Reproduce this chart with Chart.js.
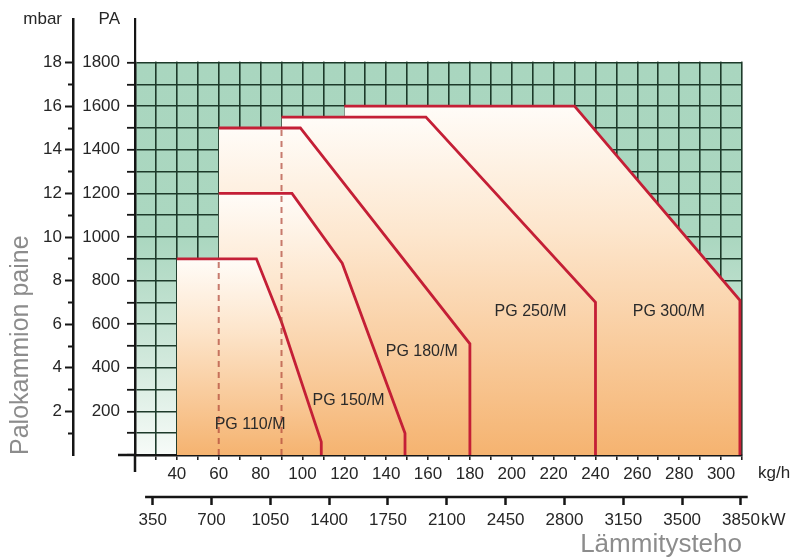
<!DOCTYPE html>
<html>
<head>
<meta charset="utf-8">
<script src="https://cdn.jsdelivr.net/npm/chart.js@4.4.1/dist/chart.umd.min.js"></script>
<style>
  html, body { margin: 0; padding: 0; background: #fff; }
  #wrap { width: 792px; height: 558px; position: relative; }
</style>
</head>
<body>
<div id="wrap"><canvas id="burner-chart"></canvas></div>
<script>
// working ranges of the burners: fuel flow (kg/h) vs chamber pressure (Pa)
const series_names = ["PG 110/M", "PG 150/M", "PG 180/M", "PG 250/M", "PG 300/M"];

const pg110_kgh = [40, 78, 90, 109, 109];
const pg110_pa = [900, 900, 610, 60, 0];
const pg150_kgh = [60, 95, 119, 149, 149];
const pg150_pa = [1200, 1200, 880, 100, 0];
const pg180_kgh = [60, 99, 180, 180];
const pg180_pa = [1500, 1500, 510, 0];
const pg250_kgh = [90, 159, 240, 240];
const pg250_pa = [1550, 1550, 700, 0];
const pg300_kgh = [120, 230, 309, 309];
const pg300_pa = [1600, 1600, 710, 0];

// dashed start lines
const dash_kgh = [60, 90];
const dash_top_pa = [900, 1500];

// model name anchors (kg/h, Pa)
const label_kgh = [75, 122, 157, 209, 275];
const label_pa = [140, 250, 474, 657, 657];

const kgh_labels = [40, 60, 80, 100, 120, 140, 160, 180, 200, 220, 240, 260, 280, 300];
const kw_labels = [350, 700, 1050, 1400, 1750, 2100, 2450, 2800, 3150, 3500, 3850];
const pa_labels = [200, 400, 600, 800, 1000, 1200, 1400, 1600, 1800];
const mbar_labels = [2, 4, 6, 8, 10, 12, 14, 16, 18];

const grid_color = "#1d3a2a";
const axis_color = "#151515";
const line_red = "#c41f36";
const font_family = '"Liberation Sans", Arial, Helvetica, sans-serif';

Chart.defaults.font.family = font_family;
Chart.defaults.color = "#262626";

function points(xs, ys) {
    return xs.map((x, i) => ({ x: x, y: ys[i] }));
}

function region_fill(context) {
    let chart = context.chart;
    if (!chart.chartArea) {
        return "rgba(245,180,110,0.8)";
    }
    let ys = context.dataset.data.map(p => p.y);
    let top = chart.scales.y.getPixelForValue(Math.max(...ys));
    let bottom = chart.scales.y.getPixelForValue(0);
    let g = chart.ctx.createLinearGradient(0, top, 0, bottom);
    g.addColorStop(0, "#fffcf8");
    g.addColorStop(0.35, "#fde6cd");
    g.addColorStop(1, "#f5b370");
    return g;
}

function model(i, xs, ys) {
    return {
        label: series_names[i],
        data: points(xs, ys),
        borderColor: line_red,
        borderWidth: 2.8,
        borderJoinStyle: "miter",
        backgroundColor: region_fill,
        fill: "origin",
        pointRadius: 0,
        tension: 0
    };
}

function dashed(i) {
    return {
        label: "dash" + i,
        data: points([dash_kgh[i], dash_kgh[i]], [0, dash_top_pa[i]]),
        borderColor: "rgba(175,70,55,0.7)",
        borderWidth: 2,
        borderDash: [6, 5],
        fill: false,
        pointRadius: 0
    };
}

const decor = {
    id: "decor",
    beforeDraw(chart) {
        let ctx = chart.ctx;
        let x = chart.scales.x, y = chart.scales.y;
        let l = x.getPixelForValue(20), r = x.getPixelForValue(310);
        let t = y.getPixelForValue(1800), b = y.getPixelForValue(0);
        let g = ctx.createLinearGradient(0, t, 0, b);
        g.addColorStop(0, "#a9d6bf");
        g.addColorStop(0.45, "#abd7c0");
        g.addColorStop(0.75, "#d0e8db");
        g.addColorStop(1, "#f7fbf8");
        ctx.save();
        ctx.fillStyle = g;
        ctx.fillRect(l, t, r - l, b - t);
        ctx.restore();
    },
    beforeDatasetsDraw(chart) {
        // grid stops at 1800 Pa
        let ctx = chart.ctx;
        let a = chart.chartArea;
        let t = chart.scales.y.getPixelForValue(1800);
        ctx.save();
        ctx.fillStyle = "#fff";
        ctx.fillRect(a.left + 1.4, a.top - 2, a.right - a.left + 2, t - a.top + 1);
        ctx.restore();
    },
    afterDraw(chart) {
        let ctx = chart.ctx;
        let x = chart.scales.x, y = chart.scales.y, kw = chart.scales.kw;
        let a = chart.chartArea;
        ctx.save();
        ctx.strokeStyle = axis_color;
        ctx.lineWidth = 2.5;
        ctx.beginPath();
        ctx.moveTo(a.left - 17, a.bottom);
        ctx.lineTo(a.left, a.bottom);
        ctx.moveTo(a.left, a.bottom);
        ctx.lineTo(a.left, a.bottom + 17);
        ctx.moveTo(kw.getPixelForValue(305), kw.top);
        ctx.lineTo(kw.getPixelForValue(3890), kw.top);
        ctx.stroke();

        ctx.fillStyle = "#262626";
        ctx.font = "17px " + font_family;
        ctx.textBaseline = "middle";
        ctx.textAlign = "left";
        ctx.fillText("kg/h", a.right + 16, a.bottom + 18);
        ctx.fillText("kW", a.right + 19, kw.top + 23);

        ctx.font = "16px " + font_family;
        ctx.fillStyle = "#2a2a2a";
        ctx.textAlign = "center";
        series_names.forEach((name, i) => {
            ctx.fillText(name, x.getPixelForValue(label_kgh[i]), y.getPixelForValue(label_pa[i]));
        });
        ctx.restore();
    }
};

const chart_el = document.getElementById("burner-chart");
new Chart(chart_el, {
    type: "line",
    data: {
        datasets: [
            dashed(0),
            dashed(1),
            model(0, pg110_kgh, pg110_pa),
            model(1, pg150_kgh, pg150_pa),
            model(2, pg180_kgh, pg180_pa),
            model(3, pg250_kgh, pg250_pa),
            model(4, pg300_kgh, pg300_pa)
        ]
    },
    options: {
        responsive: true,
        maintainAspectRatio: false,
        animation: false,
        events: [],
        layout: { padding: { top: 19, right: 50, bottom: 0, left: 0 } },
        plugins: {
            legend: { display: false },
            tooltip: { enabled: false }
        },
        scales: {
            x: {
                type: "linear",
                axis: "x",
                position: "bottom",
                min: 20,
                max: 310,
                weight: 0,
                afterBuildTicks: s => {
                    let t = [];
                    for (let v = 20; v <= 310; v += 10) t.push({ value: v });
                    s.ticks = t;
                },
                afterFit: s => { s.height = 42; },
                grid: { color: grid_color, lineWidth: 1.6, tickLength: 5, tickColor: axis_color, tickWidth: 1.5 },
                border: { color: axis_color, width: 2.5 },
                ticks: {
                    autoSkip: false, maxRotation: 0, minRotation: 0, padding: 4,
                    font: { size: 17 },
                    callback: v => kgh_labels.includes(v) ? String(v) : ""
                }
            },
            y: {
                type: "linear",
                axis: "y",
                position: "left",
                min: 0,
                max: 2000,
                weight: 0,
                afterBuildTicks: s => {
                    let t = [];
                    for (let v = 0; v <= 2000; v += 100) t.push({ value: v });
                    s.ticks = t;
                },
                afterFit: s => { s.width = 62; },
                grid: {
                    color: c => c.tick && c.tick.value <= 1800 ? grid_color : "rgba(0,0,0,0)",
                    lineWidth: 1.6,
                    tickLength: 8,
                    tickColor: c => c.tick && c.tick.value <= 1800 ? axis_color : "rgba(0,0,0,0)",
                    tickWidth: 1.8
                },
                border: { color: axis_color, width: 2.5 },
                ticks: {
                    autoSkip: false, padding: 7,
                    font: { size: 17 },
                    callback: v => v === 2000 ? "PA" : (pa_labels.includes(v) ? String(v) : "")
                }
            },
            kw: {
                type: "linear",
                axis: "x",
                position: "bottom",
                min: 245,
                max: 3856,
                weight: 1,
                afterBuildTicks: s => { s.ticks = kw_labels.map(v => ({ value: v })); },
                afterFit: s => { s.height = 61; },
                grid: { drawOnChartArea: false, tickLength: 8, tickColor: axis_color, tickWidth: 2.5 },
                border: { display: false },
                ticks: {
                    autoSkip: false, maxRotation: 0, minRotation: 0, padding: 5,
                    font: { size: 17 },
                    callback: v => String(v)
                },
                title: {
                    display: true, text: "Lämmitysteho", align: "end", color: "#8c8c8c",
                    font: { size: 26, lineHeight: 1 }, padding: { top: 0, bottom: 0 }
                }
            },
            mbar: {
                type: "linear",
                axis: "y",
                position: "left",
                min: 0,
                max: 20,
                weight: 1,
                afterBuildTicks: s => {
                    let t = [];
                    for (let v = 1; v <= 18; v++) t.push({ value: v });
                    t.push({ value: 20 });
                    s.ticks = t;
                },
                afterFit: s => { s.width = 73; },
                grid: {
                    drawOnChartArea: false,
                    tickLength: 8,
                    tickWidth: 2,
                    tickColor: c => c.tick && c.tick.value === 20 ? "rgba(0,0,0,0)" : axis_color,
                    tickBorderDash: c => c.tick && c.tick.value % 2 === 1 ? [0, 3, 6, 20] : []
                },
                border: { color: axis_color, width: 2.5 },
                ticks: {
                    autoSkip: false, padding: 3,
                    font: { size: 17 },
                    callback: v => v === 20 ? "mbar" : (mbar_labels.includes(v) ? String(v) : "")
                },
                title: {
                    display: true, text: "Palokammion paine", align: "start", color: "#8c8c8c",
                    font: { size: 25, lineHeight: 1 }, padding: { top: 9, bottom: 0 }
                }
            }
        }
    },
    plugins: [decor]
});
</script>
</body>
</html>
